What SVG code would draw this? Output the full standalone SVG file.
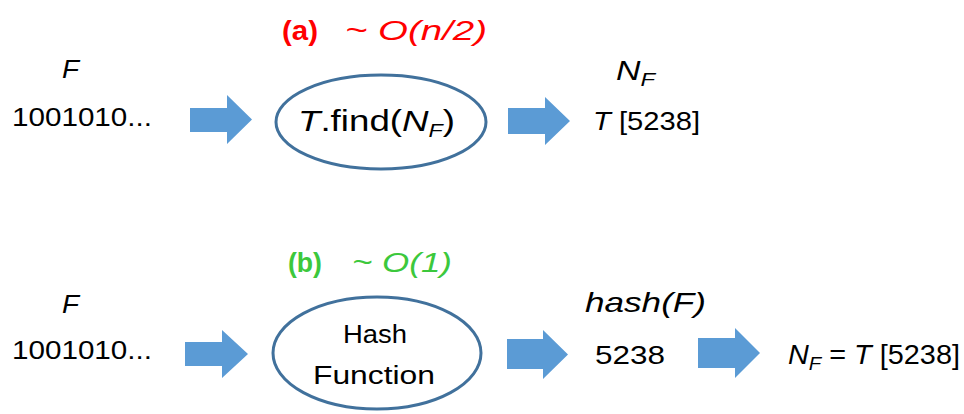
<svg xmlns="http://www.w3.org/2000/svg" width="964" height="414" viewBox="0 0 964 414">
<style>
text{font-family:"Liberation Sans",Arial,sans-serif;fill:#000;}
.it{font-style:italic;}
.bd{font-weight:bold;}
.red{fill:#FF0000;}
.grn{fill:#3CC83C;}
.node{fill:#fff;stroke:#41719C;stroke-width:3;}
.arrow{fill:#5B9BD5;stroke:none;}
.sub{font-size:19px;}
</style>
<rect width="964" height="414" fill="#fff"/>
<g id="label-a">
<text x="282" y="40" font-size="28" class="red bd" textLength="36" lengthAdjust="spacingAndGlyphs">(a)</text>
<text x="345" y="40" font-size="28" class="red it" textLength="142" lengthAdjust="spacingAndGlyphs">~ O(n/2)</text>
</g>
<g id="label-b">
<text x="288" y="272" font-size="28" class="grn bd" textLength="34" lengthAdjust="spacingAndGlyphs">(b)</text>
<text x="352" y="272" font-size="28" class="grn it" textLength="100" lengthAdjust="spacingAndGlyphs">~ O(1)</text>
</g>

<g id="input-a">
<text x="62" y="78" font-size="25" class="it" textLength="17" lengthAdjust="spacingAndGlyphs">F</text>
<text x="12" y="126" font-size="26" textLength="140" lengthAdjust="spacingAndGlyphs">1001010...</text>
</g>
<g id="find">
<ellipse cx="381" cy="122" rx="105" ry="47" class="node"/>
<text x="298" y="131" font-size="30" textLength="157" lengthAdjust="spacingAndGlyphs"><tspan class="it">T</tspan>.find(<tspan class="it">N</tspan><tspan class="it sub" dy="6">F</tspan><tspan dy="-6">)</tspan></text>
</g>
<g id="result-a">
<text x="616" y="80" font-size="27" class="it" textLength="39" lengthAdjust="spacingAndGlyphs">N<tspan class="sub" dy="6">F</tspan></text>
<text x="593" y="130" font-size="26" textLength="107" lengthAdjust="spacingAndGlyphs"><tspan class="it">T</tspan> [5238]</text>
</g>

<g id="input-b">
<text x="62" y="313" font-size="25" class="it" textLength="17" lengthAdjust="spacingAndGlyphs">F</text>
<text x="12" y="359" font-size="26" textLength="140" lengthAdjust="spacingAndGlyphs">1001010...</text>
</g>
<g id="hashfn">
<ellipse cx="377" cy="353" rx="104" ry="56" class="node"/>
<text x="343" y="343" font-size="26" textLength="64" lengthAdjust="spacingAndGlyphs">Hash</text>
<text x="313" y="384" font-size="26" textLength="122" lengthAdjust="spacingAndGlyphs">Function</text>
</g>
<g id="hashval">
<text x="585" y="312" font-size="28" class="it" textLength="121" lengthAdjust="spacingAndGlyphs">hash(F)</text>
<text x="595" y="364" font-size="26" textLength="70" lengthAdjust="spacingAndGlyphs">5238</text>
</g>
<g id="result-b">
<text x="788" y="364" font-size="27" textLength="172" lengthAdjust="spacingAndGlyphs"><tspan class="it">N</tspan><tspan class="it sub" dy="6">F</tspan><tspan dy="-6"> = </tspan><tspan class="it">T</tspan> [5238]</text>
</g>

<g id="connectors">
<polygon class="arrow" points="190,108 227,108 227,95 252,119.5 227,144 227,132 190,132"/>
<polygon class="arrow" points="508,108 545,108 545,97 570,121 545,145 545,134 508,134"/>
<polygon class="arrow" points="185,342 222,342 222,330 248,354 222,378 222,366 185,366"/>
<polygon class="arrow" points="507,339 543,339 543,330 568,354.5 543,379 543,369 507,369"/>
<polygon class="arrow" points="698,338 735,338 735,328 760,353 735,378 735,368 698,368"/>
</g>
</svg>
